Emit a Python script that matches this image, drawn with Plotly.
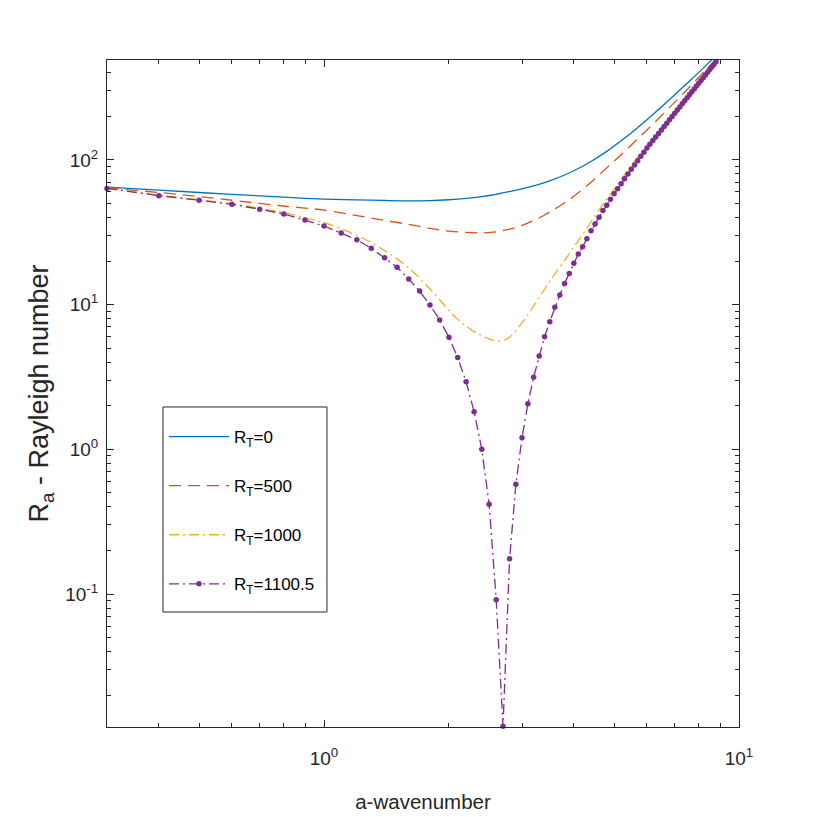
import math
import plotly.graph_objects as go

# wavenumber grids
a_line = [0.3, 0.4, 0.5, 0.6, 0.7, 0.8, 0.9, 1.0, 1.2, 1.4, 1.6, 1.8, 2.0, 2.2, 2.4, 2.6, 2.8,
          3.0, 3.2, 3.4, 3.6, 3.8, 4.0, 4.4, 4.8, 5.2, 5.6, 6.0, 6.5, 7.0, 7.5, 8.0, 8.5, 9.0]

ra_rt0 = [64.7, 61.8, 59.5, 57.8, 56.4, 55.2, 54.2, 53.6, 52.9, 52.4, 52.1, 52.2, 53.0, 54.2, 55.8, 57.8, 60.3,
          63.0, 66.0, 69.6, 73.8, 78.6, 84.1, 97.5, 114.4, 135.4, 160.4, 189.5, 232.0, 281.3, 338.0, 402.4, 475.3, 557.5]

ra_rt500 = [64.0, 59.5, 55.8, 52.6, 50.0, 48.0, 46.4, 45.0, 41.2, 38.2, 35.8, 33.6, 32.2, 31.5, 31.3, 31.8, 33.2,
            35.3, 38.1, 41.6, 45.7, 50.5, 56.0, 70.0, 88.0, 108.5, 133.0, 161.0, 202.0, 250.5, 306.0, 372.0, 446.0, 535.0]

a_rt1000 = [0.3, 0.4, 0.5, 0.6, 0.7, 0.8, 0.9, 1.0, 1.1, 1.2, 1.3, 1.4, 1.5, 1.6, 1.7, 1.8, 1.9, 2.0,
            2.1, 2.2, 2.3, 2.4, 2.5, 2.6, 2.7, 2.8, 2.9, 3.0, 3.1, 3.2, 3.3, 3.4, 3.5, 3.6,
            3.8, 4.0, 4.2, 4.4, 4.6, 4.8, 5.0, 5.2, 5.4, 5.6, 5.8, 6.0, 6.2, 6.5, 7.0, 7.5, 8.0, 8.5, 9.0]
ra_rt1000 = [63.8, 57.0, 53.0, 49.8, 46.3, 43.2, 39.8, 36.8, 33.5, 30.0, 26.8, 23.6, 20.7, 17.9, 15.2, 12.8, 10.8, 9.1,
             7.9, 7.1, 6.5, 6.1, 5.8, 5.6, 5.65, 5.95, 6.6, 7.5, 8.5, 9.8, 11.2, 12.8, 14.5, 16.3,
             20.2, 25.0, 30.5, 37.2, 45.0, 53.5, 62.5, 73.0, 85.0, 98.0, 111.5, 125.0, 139.3, 163.5, 212.0, 271.0, 342.0, 425.0, 520.0]

a_rt1100 = [0.3, 0.4, 0.5, 0.6, 0.7, 0.8, 0.9, 1.0, 1.1, 1.2, 1.3, 1.4, 1.5, 1.6, 1.7, 1.8, 1.9, 2.0,
            2.1, 2.2, 2.3, 2.4, 2.5, 2.6, 2.7, 2.8, 2.9, 3.0, 3.1, 3.2, 3.3, 3.4, 3.5, 3.6, 3.7, 3.8, 3.9,
            4.0, 4.1, 4.2, 4.3, 4.4, 4.5, 4.6, 4.7, 4.8, 4.9, 5.0, 5.1, 5.2, 5.3, 5.4, 5.5, 5.6, 5.7, 5.8, 5.9,
            6.0, 6.1, 6.2, 6.3, 6.4, 6.5, 6.6, 6.7, 6.8, 6.9, 7.0, 7.1, 7.2, 7.3, 7.4, 7.5, 7.6, 7.7, 7.8, 7.9,
            8.0, 8.1, 8.2, 8.3, 8.4, 8.5, 8.6, 8.7, 8.8, 8.9]
ra_rt1100 = [63.5, 56.6, 52.6, 49.3, 45.6, 42.3, 38.4, 34.9, 31.2, 28.0, 24.5, 21.1, 18.1, 15.0, 12.4, 9.94, 7.83, 5.94,
             4.30, 2.93, 1.82, 1.00, 0.417, 0.0914, 0.0122, 0.175, 0.573, 1.20, 2.06, 3.15, 4.41, 6.00, 7.62, 9.58, 11.65, 14.0, 16.4,
             19.3, 22.4, 25.1, 28.5, 32.4, 36.1, 40.1, 44.6, 48.6, 53.4, 58.4, 63.2, 68.5, 74.1, 79.9, 86.1, 92.2, 98.7, 105.9, 112.9,
             120.8, 128.2, 135.9, 143.9, 152.2, 160.9, 169.9, 179.3, 189.1, 199.2, 209.8, 220.7, 232.0, 243.8, 255.9, 268.5, 281.6, 295.1, 309.0, 323.7,
             338.3, 353.7, 369.6, 386.0, 402.9, 420.4, 438.3, 456.8, 475.9, 495.6]

x_ticks = [1, 10]
x_ticktext = ['10<sup>0</sup>', '10<sup>1</sup>']
x_minor = [0.4, 0.5, 0.6, 0.7, 0.8, 0.9, 2, 3, 4, 5, 6, 7, 8, 9]
y_ticks = [0.1, 1, 10, 100]
y_ticktext = ['10<sup>-1</sup>', '10<sup>0</sup>', '10<sup>1</sup>', '10<sup>2</sup>']
y_minor = [0.02, 0.03, 0.04, 0.05, 0.06, 0.07, 0.08, 0.09,
           0.2, 0.3, 0.4, 0.5, 0.6, 0.7, 0.8, 0.9,
           2, 3, 4, 5, 6, 7, 8, 9,
           20, 30, 40, 50, 60, 70, 80, 90,
           200, 300, 400]

FONT = "Liberation Sans, Arial, sans-serif"
AX = '#262626'
DASHDOT = '10px,4px,2px,4px'

fig = go.Figure()
fig.add_trace(go.Scatter(x=a_line, y=ra_rt0, mode='lines', name='R<sub>T</sub>=0', legendgroup='g1',
                         line=dict(color='#0072BD', width=1.3, shape='spline')))
fig.add_trace(go.Scatter(x=a_line, y=ra_rt500, mode='lines', name='R<sub>T</sub>=500', legendgroup='g2',
                         line=dict(color='#D95319', width=1.3, shape='spline', dash='12px,7px')))
fig.add_trace(go.Scatter(x=a_rt1000, y=ra_rt1000, mode='lines', name='R<sub>T</sub>=1000', legendgroup='g3',
                         line=dict(color='#EDB120', width=1.3, shape='spline', dash=DASHDOT)))
fig.add_trace(go.Scatter(x=a_rt1100, y=ra_rt1100, mode='lines+markers', name='R<sub>T</sub>=1100.5', legendgroup='g4',
                         line=dict(color='#7E2F8E', width=1.3, dash=DASHDOT),
                         marker=dict(color='#7E2F8E', size=5.5), cliponaxis=False))

fig.update_xaxes(type='log', range=[math.log10(0.3), 1],
                 tickvals=x_ticks, ticktext=x_ticktext,
                 ticks='inside', ticklen=7, tickcolor=AX, tickwidth=1,
                 minor=dict(tickvals=x_minor, ticks='inside', ticklen=4, tickcolor=AX),
                 showline=True, linecolor=AX, linewidth=1, mirror='ticks', showgrid=False, zeroline=False,
                 tickfont=dict(family=FONT, size=19, color=AX), ticklabelstandoff=14,
                 title=dict(text='a-wavenumber', font=dict(family=FONT, size=20.5, color=AX), standoff=26))
fig.update_yaxes(type='log', range=[-1.919, 2.690],
                 tickvals=y_ticks, ticktext=y_ticktext,
                 ticks='inside', ticklen=7, tickcolor=AX, tickwidth=1,
                 minor=dict(tickvals=y_minor, ticks='inside', ticklen=4, tickcolor=AX),
                 showline=True, linecolor=AX, linewidth=1, mirror='ticks', showgrid=False, zeroline=False,
                 tickfont=dict(family=FONT, size=19, color=AX), ticklabelstandoff=4,
                 title=dict(text='R<sub>a</sub> - Rayleigh number', font=dict(family=FONT, size=27, color=AX), standoff=8))

# legend frame drawn as a box in plot-area coordinates
fig.add_shape(type='rect', xref='x domain', yref='y domain', x0=0.0886, x1=0.348, y0=0.1724, y1=0.4798,
              line=dict(color=AX, width=1), fillcolor='white', layer='below')

fig.update_layout(width=817, height=817, paper_bgcolor='white', plot_bgcolor='white',
                  margin=dict(l=99, r=86, t=52, b=98),
                  legend=dict(x=0.0902, y=0.4618, xanchor='left', yanchor='top', bgcolor='rgba(0,0,0,0)',
                              borderwidth=0, traceorder='grouped', tracegroupgap=24,
                              itemwidth=60, font=dict(family=FONT, size=17, color='black')))

fig.write_html("out.html")
